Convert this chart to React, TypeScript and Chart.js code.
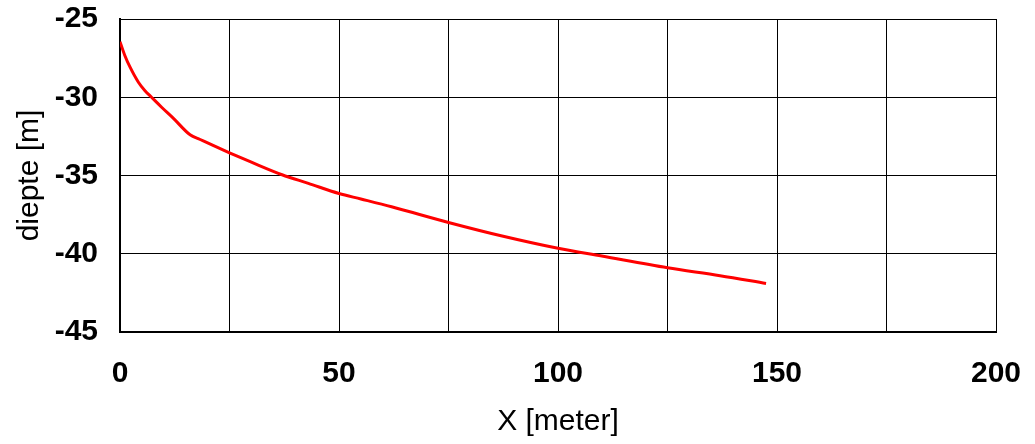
import React, { useEffect, useRef } from "react";
import { Chart, registerables } from "chart.js";

Chart.register(...registerables);

const xValues = [0, 1.1, 2.3, 4.2, 5.7, 7.2, 9.5, 12.2, 16, 18.3, 21, 25, 30, 37, 43, 50, 55, 62, 75, 87, 100, 110, 125, 137, 147.5];
const depthValues = [-26.45, -27.33, -28.08, -29.04, -29.58, -30.0, -30.64, -31.35, -32.4, -32.7, -33.05, -33.55, -34.15, -34.95, -35.5, -36.15, -36.5, -37.0, -38.0, -38.85, -39.65, -40.15, -40.9, -41.4, -41.9];
const xTickLabels = [0, 50, 100, 150, 200];
const yTickLabels = [-45, -40, -35, -30, -25];

const FONT = "'Liberation Sans', Arial, Helvetica, sans-serif";

export default function App() {
  const ref = useRef<HTMLCanvasElement | null>(null);

  useEffect(() => {
    if (!ref.current) return;
    const chart = new Chart(ref.current, {
      type: "line",
      data: {
        datasets: [
          {
            data: xValues.map((x, i) => ({ x, y: depthValues[i] })),
            borderColor: "#ff0000",
            borderWidth: 3,
            pointRadius: 0,
            cubicInterpolationMode: "monotone",
            fill: false,
          },
        ],
      },
      options: {
        animation: false,
        responsive: false,
        layout: { padding: { left: 0, right: 39, top: 19, bottom: 0 } },
        plugins: { legend: { display: false }, tooltip: { enabled: false } },
        scales: {
          x: {
            type: "linear",
            min: 0,
            max: 200,
            ticks: {
              stepSize: 25,
              padding: 24,
              color: "#000",
              font: { family: FONT, size: 30, weight: "bold" },
              maxRotation: 0,
              autoSkip: false,
              callback: (v: any) => (xTickLabels.includes(Number(v)) ? String(v) : ""),
            },
            grid: { color: "#000", lineWidth: 1, drawTicks: false },
            border: { color: "#000", width: 2 },
            title: {
              display: true,
              text: "X [meter]",
              color: "#000",
              font: { family: FONT, size: 30, weight: "normal" },
              padding: { top: 0, bottom: 4 },
            },
            afterFit: (s: any) => {
              s.height = 112;
              s.paddingLeft = 0;
              s.paddingRight = 0;
            },
          },
          y: {
            type: "linear",
            min: -45,
            max: -25,
            ticks: {
              stepSize: 5,
              padding: 22,
              color: "#000",
              font: { family: FONT, size: 30, weight: "bold" },
              autoSkip: false,
              callback: (v: any) => (yTickLabels.includes(Number(v)) ? String(v) : ""),
            },
            grid: { color: "#000", lineWidth: 1, drawTicks: false },
            border: { color: "#000", width: 2 },
            title: {
              display: true,
              text: "diepte [m]",
              color: "#000",
              font: { family: FONT, size: 30, weight: "normal" },
              padding: { top: 12, bottom: 0 },
            },
            afterFit: (s: any) => {
              s.width = 120;
              s.paddingTop = 0;
              s.paddingBottom = 0;
            },
          },
        },
      },
    });
    return () => chart.destroy();
  }, []);

  return (
    <div style={{ position: "fixed", left: 0, top: 0, width: 1035, height: 444, background: "#fff" }}>
      <canvas ref={ref} width={1035} height={444} style={{ display: "block" }} />
    </div>
  );
}
